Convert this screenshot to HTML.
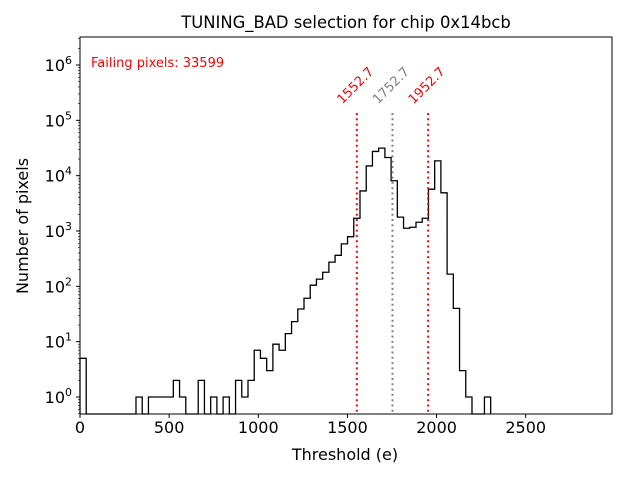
<!DOCTYPE html>
<html><head><meta charset="utf-8"><style>
body{margin:0;background:#fff}
svg{display:block;font-family:"DejaVu Sans","Liberation Sans",sans-serif}
</style></head><body>
<svg id="chart" width="640" height="480" viewBox="0 0 640 480">
<rect width="640" height="480" fill="#fff"/>
<text x="346" y="28" font-size="16.4" text-anchor="middle">TUNING_BAD selection for chip 0x14bcb</text>
<text x="91" y="67" font-size="13" fill="red">Failing pixels: 33599</text>
<g id="plot"></g>
<text x="345" y="460" font-size="16" text-anchor="middle">Threshold (e)</text>
<text transform="translate(28,226) rotate(-90)" font-size="16" text-anchor="middle">Number of pixels</text>
</svg>
<script>
const binWidth = 34.9;
const counts = [5,0,0,0,0,0,0,0,0,1,0,1,1,1,1,2,1,0,0,2,0,1,0,1,0,2,1,2,7,5,3,9,7,14,23,39,61,105,135,180,274,364,586,790,1700,5300,15000,27400,31500,21300,8100,1780,1120,1170,1440,1700,5700,18500,4900,166,40,3,1,0,0,1];
const xTicks = [0,500,1000,1500,2000,2500];
const yTicks = [0,1,2,3,4,5,6];
const cutValues = [1552.7,1752.7,1952.7];
const cutColors = ["red","gray","red"];
const cutNames = ["lower-cut-line","mean-line","upper-cut-line"];

const L=80,R=612,T=37,B=414;
const X0=0,X1=2984, LY0=-0.307, LY1=6.506;
const sx=v=>L+(v-X0)/(X1-X0)*(R-L);
const sy=v=>B-(Math.log10(v)-LY0)/(LY1-LY0)*(B-T);
const NS="http://www.w3.org/2000/svg";
const g=document.getElementById('plot');
function mk(t,a){const e=document.createElementNS(NS,t);for(const k in a)e.setAttribute(k,a[k]);g.appendChild(e);return e;}

let d="";
const yb=B;
for(let i=0;i<counts.length;i++){
  const x0=sx(i*binWidth), x1=sx((i+1)*binWidth);
  const y=counts[i]>0?sy(counts[i]):yb;
  if(i===0) d+="M"+x0+","+yb+"L"+x0+","+y;
  else d+="L"+x0+","+y;
  d+="L"+x1+","+y;
}
d+="L"+sx(counts.length*binWidth)+","+yb;
const h=mk('path',{d:d,fill:'none',stroke:'#000','stroke-width':1.3});



cutValues.forEach((v,i)=>{
  const x=sx(v);
  const ln=mk('line',{x1:x,x2:x,y1:113,y2:B,stroke:cutColors[i],'stroke-width':2,'stroke-dasharray':'2,3.3'});
  
  
  const t=mk('text',{transform:`translate(${x-1},86) rotate(-45)`,'font-size':13,'text-anchor':'middle','dominant-baseline':'central',fill:cutColors[i]});
  t.textContent=v.toFixed(1);
  
  
});

const fr=mk('rect',{x:L,y:T,width:R-L,height:B-T,fill:'none',stroke:'#000','stroke-width':1});



xTicks.forEach(v=>{
  const x=sx(v);
  const tk=mk('line',{x1:x,x2:x,y1:B,y2:B+4,stroke:'#000'});
  
  
  const t=mk('text',{x:x,y:B+19,'font-size':16,'text-anchor':'middle'});
  t.textContent=v;
  
  
});
yTicks.forEach(p=>{
  const y=sy(Math.pow(10,p));
  const tk=mk('line',{x1:L-4,x2:L,y1:y,y2:y,stroke:'#000'});
  
  
  const t=mk('text',{x:L-8,y:y+6,'font-size':16,'text-anchor':'end'});
  t.innerHTML='10<tspan dy="-7" font-size="11">'+p+'</tspan>';
  
  
});
for(let p=-1;p<=6;p++){for(let m=2;m<=9;m++){
  const v=m*Math.pow(10,p); const lv=Math.log10(v);
  if(lv<LY0||lv>LY1) continue;
  const y=sy(v);
  const tk=mk('line',{x1:L-2,x2:L,y1:y,y2:y,stroke:'#000','stroke-width':0.6});
  
  
}}
</script>
</body></html>
